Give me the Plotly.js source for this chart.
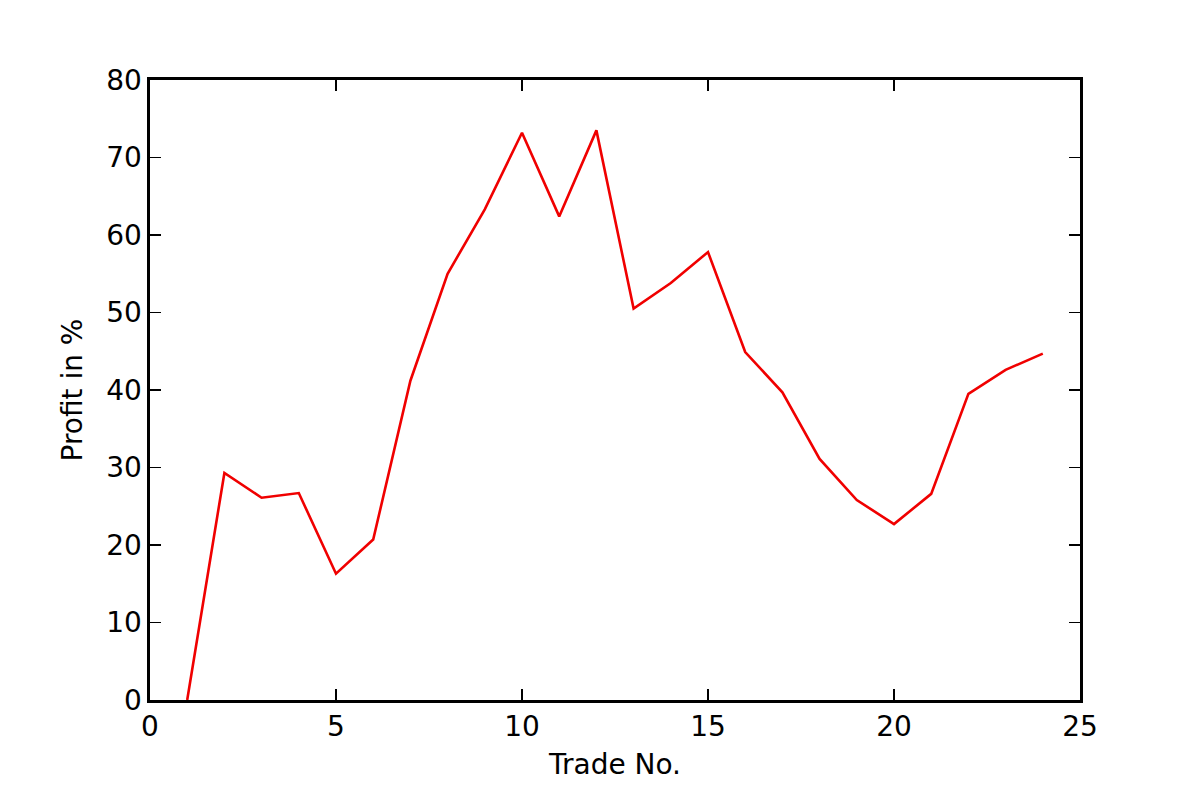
<!DOCTYPE html>
<html>
<head>
<meta charset="utf-8">
<script src="https://cdn.plot.ly/plotly-3.0.1.min.js"></script>
<style>html,body{margin:0;padding:0;background:#fff;}#chart{width:1200px;height:800px;}</style>
</head>
<body>
<div id="chart"></div>
<script>
var tradeNo = [1,2,3,4,5,6,7,8,9,10,11,12,13,14,15,16,17,18,19,20,21,22,23,24];
var profit = [0,29.3,26.1,26.7,16.3,20.7,41.2,55.0,63.3,73.2,62.4,73.5,50.5,53.8,57.8,44.9,39.7,31.1,25.8,22.7,26.6,39.5,42.6,44.7];
var xTicks = [0,5,10,15,20,25];
var yTicks = [0,10,20,30,40,50,60,70,80];

var trace = {
  x: tradeNo, y: profit, type: 'scatter', mode: 'lines',
  line: {color: '#f00000', width: 2.6},
  hoverinfo: 'skip'
};
var axisCommon = {
  showgrid: false, zeroline: false, showline: true, linecolor: '#000', linewidth: 2.6,
  mirror: 'ticks', ticks: 'inside', ticklen: 11, tickwidth: 1.4, tickcolor: '#000',
  tickfont: {family: 'DejaVu Sans', size: 28, color: '#000'}
};
var layout = {
  width: 1200, height: 800,
  margin: {l: 150, r: 120, t: 80, b: 100},
  paper_bgcolor: '#fff', plot_bgcolor: '#fff',
  showlegend: false,
  xaxis: Object.assign({}, axisCommon, {
    range: [0, 25], tickvals: xTicks, ticktext: xTicks.map(String),
    title: {text: 'Trade No.', font: {family: 'DejaVu Sans', size: 28, color: '#000'}, standoff: 12}
  }),
  yaxis: Object.assign({}, axisCommon, {
    range: [0, 80], tickvals: yTicks, ticktext: yTicks.map(String),
    title: {text: 'Profit in %', font: {family: 'DejaVu Sans', size: 28, color: '#000'}, standoff: 16}
  })
};
Plotly.newPlot('chart', [trace], layout, {staticPlot: true, displayModeBar: false});
</script>
</body>
</html>
